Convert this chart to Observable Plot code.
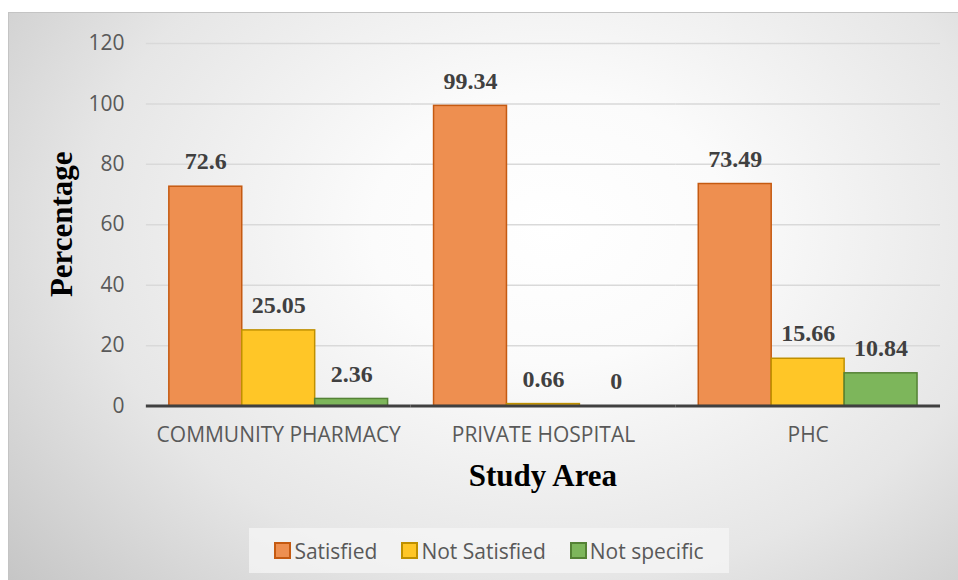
<!DOCTYPE html>
<html>
<head>
<meta charset="utf-8">
<script src="https://cdn.jsdelivr.net/npm/d3@7"></script>
<script src="https://cdn.jsdelivr.net/npm/@observablehq/plot@0.6"></script>
<style>
  html, body { margin: 0; padding: 0; background: #fff; }
  #wrap { position: relative; width: 958px; height: 580px; overflow: hidden; }
  #frame {
    position: absolute; left: 8px; top: 12px; width: 950px; height: 568px;
    border-top: 1px solid #c4c4c4; border-left: 1px solid #c4c4c4; box-sizing: border-box;
    background: radial-gradient(ellipse 75% 95% at 57% 38%, #ffffff 0%, #fbfbfb 25%, #e6e6e6 65%, #c6c6c6 100%);
  }
  #chart { position: absolute; left: 0; top: 0; }
  #legend {
    position: absolute; left: 240px; top: 515px; width: 480px; height: 45px;
    background: rgba(245,245,245,0.75);
    display: flex; align-items: center; justify-content: center; gap: 24px;
    font-family: "Open Sans", sans-serif; font-size: 21px; color: #595959;
  }
  .item { display: flex; align-items: center; gap: 3px; }
  .sw { width: 13px; height: 13px; border: 2px solid; }
</style>
</head>
<body>
<div id="wrap"><div id="frame"><div id="chart"></div><div id="legend"></div></div></div>
<script>
const areas = ["COMMUNITY PHARMACY", "PRIVATE HOSPITAL", "PHC"];
const seriesNames = ["Satisfied", "Not Satisfied", "Not specific"];
const satisfied = [72.6, 99.34, 73.49];
const notSatisfied = [25.05, 0.66, 15.66];
const notSpecific = [2.36, 0, 10.84];
const yTicks = [0, 20, 40, 60, 80, 100, 120];
const fills = ["#EE8F50", "#FFC627", "#7DB65B"];
const strokes = ["#C55A11", "#BF9000", "#548235"];

const seriesValues = [satisfied, notSatisfied, notSpecific];
const data = [];
areas.forEach((a, i) => seriesNames.forEach((s, j) => data.push({area: a, series: s, value: seriesValues[j][i]})));

const W = 950, H = 500;
const plot = Plot.plot({
  width: W, height: H,
  marginLeft: 137, marginRight: 18, marginTop: 30, marginBottom: 107,
  style: {background: "transparent", fontFamily: "Open Sans, sans-serif", fontSize: "21px", color: "#595959", overflow: "visible"},
  fx: {domain: areas, padding: 0, label: null, tickSize: 0, tickPadding: 21},
  x: {domain: seriesNames, paddingInner: 0, paddingOuter: 0.315, axis: null},
  y: {domain: [0, 120], ticks: yTicks, tickSize: 0, tickPadding: 22, label: null},
  color: {domain: seriesNames, range: fills},
  marks: [
    Plot.gridY(yTicks.slice(1), {stroke: "#d9d9d9", strokeOpacity: 1, strokeWidth: 1.5}),
    Plot.barY(data, {fx: "area", x: "series", y: "value", fill: "series", fillOpacity: 1,
      stroke: d => strokes[seriesNames.indexOf(d.series)], strokeWidth: 1.5, inset: 0}),
    Plot.ruleY([0], {stroke: "#404040", strokeWidth: 3}),
    Plot.text(data, {fx: "area", x: "series", y: "value", text: d => String(d.value), dy: -25,
      fontFamily: "Liberation Serif, Times New Roman, serif", fontWeight: "bold", fontSize: 24, fill: "#404040"})
  ]
});

const svg = d3.select(plot);
svg.append("text").text("Study Area")
  .attr("x", 137 + (W - 137 - 18) / 2).attr("y", 474)
  .attr("text-anchor", "middle")
  .attr("font-family", "Liberation Serif, Times New Roman, serif")
  .attr("font-weight", "bold").attr("font-size", 31).attr("fill", "#000");
svg.append("text").text("Percentage")
  .attr("transform", `translate(63, ${30 + (H - 30 - 107) / 2}) rotate(-90)`)
  .attr("text-anchor", "middle")
  .attr("font-family", "Liberation Serif, Times New Roman, serif")
  .attr("font-weight", "bold").attr("font-size", 31).attr("fill", "#000");

document.getElementById("chart").appendChild(plot);

const legend = d3.select("#legend");
seriesNames.forEach((s, i) => {
  const it = legend.append("div").attr("class", "item");
  it.append("div").attr("class", "sw").style("background", fills[i]).style("border-color", strokes[i]);
  it.append("span").text(s);
});
</script>
</body>
</html>
